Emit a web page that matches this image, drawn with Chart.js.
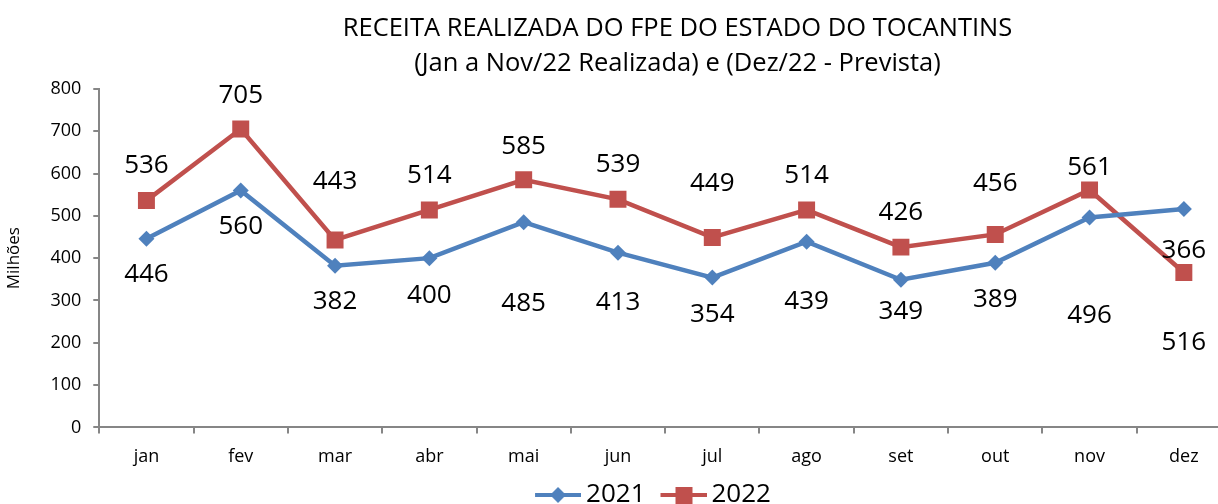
<!DOCTYPE html>
<html>
<head>
<meta charset="utf-8">
<script src="https://cdn.jsdelivr.net/npm/chart.js@4"></script>
<style>
  html, body { margin: 0; padding: 0; background: #fff; overflow: hidden; }
</style>
</head>
<body>
<canvas id="myChart" width="1243" height="518"></canvas>
<script>
// dados (milhões)
const meses = ['jan', 'fev', 'mar', 'abr', 'mai', 'jun', 'jul', 'ago', 'set', 'out', 'nov', 'dez'];
const valores_2021 = [446, 560, 382, 400, 485, 413, 354, 439, 349, 389, 496, 516];
const valores_2022 = [536, 705, 443, 514, 585, 539, 449, 514, 426, 456, 561, 366];
const ticks_y = [0, 100, 200, 300, 400, 500, 600, 700, 800];

// deslocamento vertical (px) dos rótulos em relação ao ponto
const desloc_2021 = [36, 36, 36, 37, 81, 50, 37, 60, 32, 37, 98, 134];
const desloc_2022 = [-35, -33, -58, -34, -33, -35, -54, -34, -35, -51, -22, -22];

const AZUL = '#4F81BD';
const VERMELHO = '#C0504D';
const FONTE = "'Open Sans', sans-serif";

// ícone da legenda: linha com marcador (deslocado 15px p/ direita dentro da imagem)
function icone_legenda(cor, forma) {
    let c = document.createElement('canvas');
    c.width = 61;
    c.height = 22;
    let g = c.getContext('2d');
    g.translate(15, 0);
    g.strokeStyle = cor;
    g.lineWidth = 4;
    g.beginPath();
    g.moveTo(0, 11);
    g.lineTo(46, 11);
    g.stroke();
    g.fillStyle = cor;
    g.beginPath();
    if (forma == 'diamante') {
        g.moveTo(23, 3); g.lineTo(31, 11); g.lineTo(23, 19); g.lineTo(15, 11);
    } else {
        g.rect(15, 3, 17, 17);
    }
    g.fill();
    return c;
}

const rotulos_plugin = {
    id: 'rotulos',
    afterLayout(chart) {
        // título e legenda ficam um pouco à direita do centro, como no original
        chart.titleBlock.left += 54;
        chart.titleBlock.right += 54;
        chart.legend.left += 26;
        chart.legend.right += 26;
    },
    afterDatasetsDraw(chart) {
        let ctx = chart.ctx;
        ctx.save();
        ctx.font = "26px " + FONTE;
        ctx.fillStyle = '#000';
        ctx.textAlign = 'center';
        ctx.textBaseline = 'middle';
        const deslocs = [desloc_2021, desloc_2022];
        chart.data.datasets.forEach((ds, i) => {
            let meta = chart.getDatasetMeta(i);
            meta.data.forEach((p, j) => {
                ctx.fillText(String(ds.data[j]), p.x, p.y + deslocs[i][j]);
            });
        });
        ctx.restore();
    }
};

let ctx = document.getElementById('myChart').getContext('2d');
let grafico = new Chart(ctx, {
    type: 'line',
    data: {
        labels: meses,
        datasets: [
            {
                label: '2021',
                data: valores_2021,
                borderColor: AZUL,
                backgroundColor: AZUL,
                borderWidth: 4.5,
                pointStyle: 'rectRot',
                pointRadius: 8,
                pointHoverRadius: 8,
                pointBorderWidth: 0,
                tension: 0
            },
            {
                label: '2022',
                data: valores_2022,
                borderColor: VERMELHO,
                backgroundColor: VERMELHO,
                borderWidth: 4.5,
                pointStyle: 'rect',
                pointRadius: 12,
                pointHoverRadius: 12,
                pointBorderWidth: 0,
                tension: 0
            }
        ]
    },
    options: {
        responsive: false,
        animation: false,
        layout: { padding: { left: 4, right: 0, top: 11, bottom: 0 } },
        plugins: {
            title: {
                display: true,
                text: ['RECEITA REALIZADA DO FPE DO ESTADO DO TOCANTINS', '(Jan a Nov/22 Realizada) e (Dez/22 - Prevista)'],
                color: '#000',
                font: { family: FONTE, size: 25.5, weight: 'normal', lineHeight: 1.37 },
                padding: { top: 0, bottom: 8 }
            },
            legend: {
                position: 'bottom',
                labels: {
                    color: '#000',
                    font: { family: FONTE, size: 26 },
                    usePointStyle: true,
                    pointStyleWidth: 45,
                    padding: 8,
                    generateLabels(chart) {
                        let itens = Chart.defaults.plugins.legend.labels.generateLabels(chart);
                        itens[0].pointStyle = icone_legenda(AZUL, 'diamante');
                        itens[1].pointStyle = icone_legenda(VERMELHO, 'quadrado');
                        return itens;
                    }
                }
            },
            tooltip: { enabled: false }
        },
        scales: {
            x: {
                offset: true,
                grid: { display: true, offset: true, drawOnChartArea: false, color: '#868686', tickLength: 6, lineWidth: 2 },
                border: { color: '#868686', width: 2 },
                ticks: { color: '#000', font: { family: FONTE, size: 18 }, padding: 13 },
                afterFit(axis) { axis.height -= 7; }
            },
            y: {
                min: 0,
                max: 800,
                afterBuildTicks(axis) {
                    axis.ticks = ticks_y.map(v => ({ value: v }));
                },
                grid: { display: true, drawOnChartArea: false, color: '#868686', tickLength: 6, lineWidth: 2 },
                border: { color: '#868686', width: 2 },
                ticks: { color: '#000', font: { family: FONTE, size: 18 }, padding: 12 },
                title: {
                    display: true,
                    text: 'Milhões',
                    color: '#000',
                    font: { family: FONTE, size: 17 },
                    padding: { top: 0, bottom: 14 }
                }
            }
        }
    },
    plugins: [rotulos_plugin]
});
</script>
</body>
</html>
